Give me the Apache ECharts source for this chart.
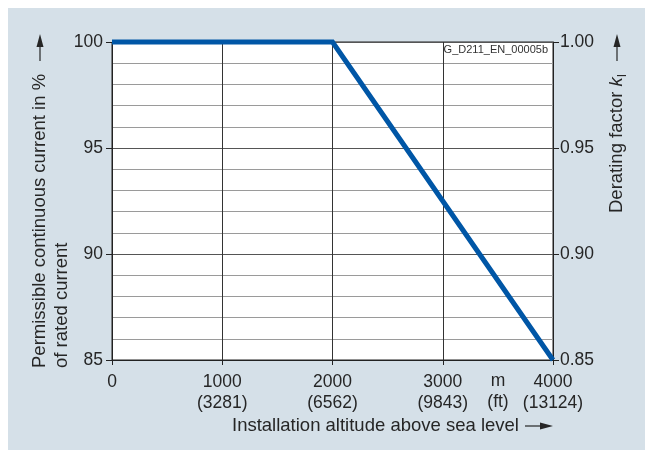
<!DOCTYPE html>
<html>
<head>
<meta charset="utf-8">
<script src="https://cdn.jsdelivr.net/npm/echarts@6/dist/echarts.min.js"></script>
<style>
  html, body { margin: 0; padding: 0; background: #ffffff; }
  #bg { position: absolute; left: 8px; top: 8px; width: 637px; height: 442px; background: #d5e0e8; }
  #chart { position: absolute; left: 0; top: 0; width: 645px; height: 450px; }
</style>
</head>
<body>
<div id="bg"></div>
<div id="chart"></div>
<script>
// ---- data ----
const altitudeM = [0, 2000, 4000];
const currentPct = [100, 100, 85];
const xTicksM = ['0', '1000', '2000', '3000', '4000'];
const xTicksFt = ['', '(3281)', '(6562)', '(9843)', '(13124)'];
const leftTicks = [85, 90, 95, 100];
const rightTicks = ['0.85', '0.90', '0.95', '1.00'];

const FONT = '"Liberation Sans", Arial, Helvetica, sans-serif';
const TXT = '#262626';
const BLUE = '#0056a6';
const TICK_FS = 17.5;
const TITLE_FS = 18.5;

const chart = echarts.init(document.getElementById('chart'), null, { renderer: 'canvas' });

const G = { left: 112, top: 42, width: 441, height: 318 };

function arrowUp(x, yTop, len) {
  return [
    { type: 'line', shape: { x1: x, y1: yTop + 10, x2: x, y2: yTop + len }, style: { stroke: TXT, lineWidth: 1.2 } },
    { type: 'polygon', shape: { points: [[x, yTop], [x - 3.5, yTop + 13], [x + 3.5, yTop + 13]] }, style: { fill: TXT } }
  ];
}
function arrowRight(xTip, y, len) {
  return [
    { type: 'line', shape: { x1: xTip - len, y1: y, x2: xTip - 10, y2: y }, style: { stroke: TXT, lineWidth: 1.2 } },
    { type: 'polygon', shape: { points: [[xTip, y], [xTip - 13, y - 3.5], [xTip - 13, y + 3.5]] }, style: { fill: TXT } }
  ];
}

const option = {
  backgroundColor: 'transparent',
  animation: false,
  textStyle: { fontFamily: FONT },
  grid: Object.assign({ show: true, backgroundColor: '#ffffff', borderColor: '#222', borderWidth: 1, containLabel: false }, G),
  xAxis: {
    type: 'value', min: 0, max: 4000, interval: 1000,
    axisLine: { show: true, lineStyle: { color: '#222', width: 1 } },
    axisTick: { show: true, length: 5, lineStyle: { color: '#222' } },
    splitLine: { show: true, lineStyle: { color: '#333', width: 1 } },
    axisLabel: {
      margin: 12, color: TXT, fontSize: TICK_FS, fontFamily: FONT, lineHeight: 21,
      verticalAlign: 'top',
      formatter: function (v) {
        const i = Math.round(v / 1000);
        return xTicksFt[i] ? xTicksM[i] + '\n' + xTicksFt[i] : xTicksM[i];
      }
    }
  },
  yAxis: [
    {
      type: 'value', min: leftTicks[0], max: leftTicks[leftTicks.length - 1], interval: 5, position: 'left',
      axisLine: { show: true, lineStyle: { color: '#222' } },
      axisTick: { show: true, length: 6, lineStyle: { color: '#222' } },
      splitLine: { show: true, lineStyle: { color: '#555', width: 1 } },
      minorTick: { show: false, splitNumber: 5 },
      minorSplitLine: { show: true, lineStyle: { color: '#9a9a9a', width: 1 } },
      axisLabel: { margin: 9, color: TXT, fontSize: TICK_FS, fontFamily: FONT }
    },
    {
      type: 'value', min: 0.85, max: 1.0, interval: 0.05, position: 'right',
      axisLine: { show: true, lineStyle: { color: '#222' } },
      axisTick: { show: true, length: 6, lineStyle: { color: '#222' } },
      splitLine: { show: false },
      axisLabel: {
        margin: 7, color: TXT, fontSize: TICK_FS, fontFamily: FONT,
        formatter: function (v) { return rightTicks[Math.round((v - 0.85) / 0.05)]; }
      }
    }
  ],
  series: [{
    type: 'line',
    yAxisIndex: 0,
    data: altitudeM.map((x, i) => [x, currentPct[i]]),
    symbol: 'none',
    clip: false,
    lineStyle: { color: BLUE, width: 5, cap: 'butt', join: 'miter' },
    z: 5
  }],
  graphic: [
    // code in top-right cell
    { type: 'text', x: 548, y: 50, z: 10, style: { text: 'G_D211_EN_00005b', font: '11px ' + FONT, fill: '#333', textAlign: 'right', textVerticalAlign: 'middle' } },
    // units
    { type: 'text', x: 498, y: 372, style: { text: 'm', font: TICK_FS + 'px ' + FONT, fill: TXT, textAlign: 'center', textVerticalAlign: 'top' } },
    { type: 'text', x: 498, y: 393, style: { text: '(ft)', font: TICK_FS + 'px ' + FONT, fill: TXT, textAlign: 'center', textVerticalAlign: 'top' } },
    // x title
    { type: 'text', x: 232, y: 426, style: { text: 'Installation altitude above sea level', font: TITLE_FS + 'px ' + FONT, fill: TXT, textAlign: 'left', textVerticalAlign: 'middle' } },
    ...arrowRight(553, 426, 28),
    // left title
    { type: 'text', x: 40, y: 368, rotation: Math.PI / 2, style: { text: 'Permissible continuous current in %', font: TITLE_FS + 'px ' + FONT, fill: TXT, textAlign: 'left', textVerticalAlign: 'middle' } },
    { type: 'text', x: 62, y: 368, rotation: Math.PI / 2, style: { text: 'of rated current', font: TITLE_FS + 'px ' + FONT, fill: TXT, textAlign: 'left', textVerticalAlign: 'middle' } },
    ...arrowUp(40, 34, 27),
    // right title
    { type: 'text', x: 617, y: 213, rotation: Math.PI / 2, style: {
        text: 'Derating factor {k|k}{s|I}', font: TITLE_FS + 'px ' + FONT, fill: TXT, textAlign: 'left', textVerticalAlign: 'middle',
        rich: {
          k: { fontStyle: 'italic', fontSize: TITLE_FS, fontFamily: FONT, fill: TXT, lineHeight: 24 },
          s: { fontSize: 12, fontFamily: FONT, fill: TXT, lineHeight: 24, verticalAlign: 'bottom' }
        }
      } },
    ...arrowUp(617, 34, 27)
  ]
};
chart.setOption(option);
</script>
</body>
</html>
